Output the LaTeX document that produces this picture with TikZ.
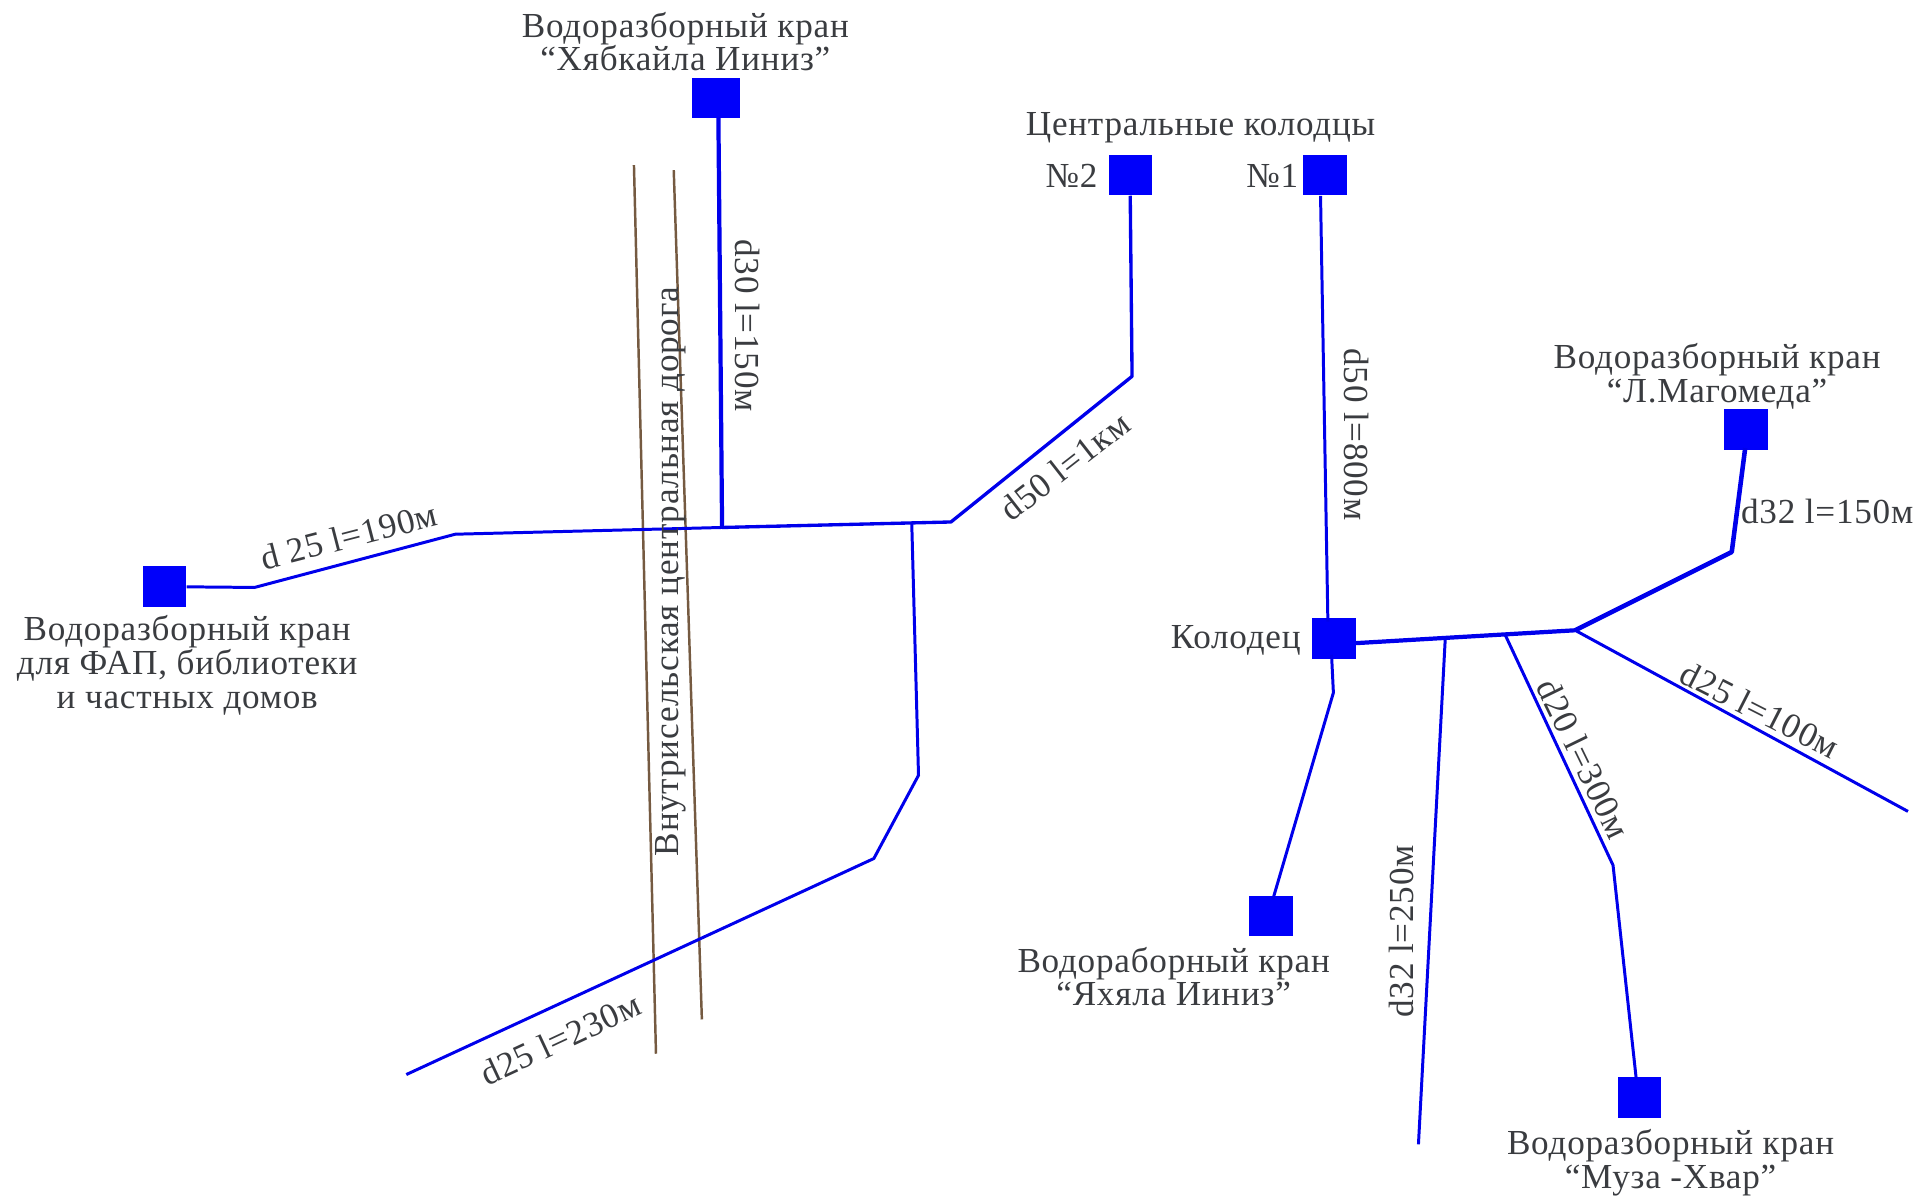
\documentclass[tikz,border=0pt]{standalone}
\usepackage{fontspec}
\setmainfont[LetterSpace=2.2]{Liberation Serif}
\definecolor{pipe}{RGB}{0,0,235}
\definecolor{sq}{RGB}{0,0,250}
\definecolor{road}{RGB}{117,90,65}
\definecolor{txt}{RGB}{58,60,64}
\tikzset{
 well/.style={draw=none,fill=sq,minimum width=24.7pt,minimum height=23.2pt,inner sep=0pt},
 pipeline/.style={draw=pipe,line width=1.7pt,line join=round},
 mainpipe/.style={draw=pipe,line width=2.4pt,line join=round},
 roadline/.style={draw=road,line width=1.4pt},
 lbl/.style={text=txt,font=\fontsize{20}{19.2}\selectfont,align=center,inner sep=0pt},
}
\begin{document}
\begin{tikzpicture}[x=0.02448cm,y=-0.02448cm]
\useasboundingbox (0,0) rectangle (1568,977);
% wells
\node[well,minimum width=27pt] (kh) at (585,80) {};
\node[well] (n2) at (923.5,143) {};
\node[well] (n1) at (1082.5,143) {};
\node[well] (fap) at (134.5,479.5) {};
\node[well] (kol) at (1090,522) {};
\node[well] (lm) at (1426.5,351) {};
\node[well] (ya) at (1038.5,748.5) {};
\node[well] (mu) at (1339.5,896.5) {};
% coordinates
\coordinate (a0) at (587,96);
\coordinate (a1) at (590,431);
\coordinate (a2) at (372,436.5);
\coordinate (a3) at (208,480);
\coordinate (a4) at (777,426.5);
\coordinate (a5) at (925,307.5);
\coordinate (b1) at (745,428);
\coordinate (b2) at (750.5,633.5);
\coordinate (b3) at (714,701.5);
\coordinate (b4) at (332,878);
\coordinate (c00) at (1079,160);
\coordinate (c0) at (1085,508);
\coordinate (c1) at (1108,525.5);
\coordinate (c2) at (1287,515);
\coordinate (c3) at (1415,451);
\coordinate (c5) at (1426,366);
\coordinate (c4) at (1559,663);
\coordinate (d1) at (1181,520);
\coordinate (d2) at (1159,935);
\coordinate (e1) at (1230,519);
\coordinate (e2) at (1318,707);
\coordinate (e3) at (1337,882);
\coordinate (f1) at (1088,535);
\coordinate (f2) at (1089.5,566);
\coordinate (f3) at (1040,735);
\coordinate (r1) at (518,135);
\coordinate (r2) at (536,861);
\coordinate (r3) at (550.5,139);
\coordinate (r4) at (573.5,833);
% road
\draw[roadline] (r1) -- (r2);
\draw[roadline] (r3) -- (r4);
% pipes
\draw[mainpipe] (a0) -- (a1);
\draw[pipeline] (fap.east) -- (a3) -- (a2) -- (a1);
\draw[pipeline,line width=1.9pt] (a1) -- (a4) -- (a5) -- (n2.south);
\draw[pipeline] (b1) -- (b2) -- (b3) -- (b4);
\draw[pipeline] (c00) -- (c0);
\draw[mainpipe] (c1) -- (c2);
\draw[mainpipe,line width=2.6pt] (c2) -- (c3) -- (c5);
\draw[pipeline] (c2) -- (c4);
\draw[pipeline] (d1) -- (d2);
\draw[pipeline] (e1) -- (e2) -- (e3);
\draw[pipeline] (f1) -- (f2) -- (f3);
% labels
\node[lbl] (t1) at (560,34) {Водоразборный кран\\“Хябкайла Ииниз”};
\node[lbl] (t2) at (981,104.5) {Центральные колодцы};
\node[lbl,anchor=east] (t3) at (897,144) {№2};
\node[lbl,anchor=east] (t4) at (1061,144) {№1};
\node[lbl] (t5) at (1403,307.5) {Водоразборный кран\\“Л.Магомеда”};
\node[lbl] (t6) at (153,543.5) {Водоразборный кран\\для ФАП, библиотеки\\и частных домов};
\node[lbl,anchor=east] (t7) at (1063,523) {Колодец};
\node[lbl] (t8) at (959,798) {Водораборный кран\\“Яхяла Ииниз”};
\node[lbl] (t9) at (1365,950) {Водоразборный кран\\“Муза -Хвар”};
\node[lbl,rotate=-90] (t10) at (611,266) {d30 l=150м};
\node[lbl,rotate=90] (t11) at (548,467) {Внутрисельская центральная дорога};
\node[lbl,rotate=-90] (t12) at (1108,355) {d50 l=800м};
\node[lbl,rotate=14.5] (t13) at (285,438) {d 25 l=190м};
\node[lbl,rotate=38] (t14) at (870,381) {d50 l=1км};
\node[lbl,rotate=25] (t15) at (458,849) {d25 l=230м};
\node[lbl] (t16) at (1493,418) {d32 l=150м};
\node[lbl,rotate=-27] (t17) at (1438,580) {d25 l=100м};
\node[lbl,rotate=-64] (t18) at (1294,620) {d20 l=300м};
\node[lbl,rotate=90] (t19) at (1145,761) {d32 l=250м};
\end{tikzpicture}
\end{document}
